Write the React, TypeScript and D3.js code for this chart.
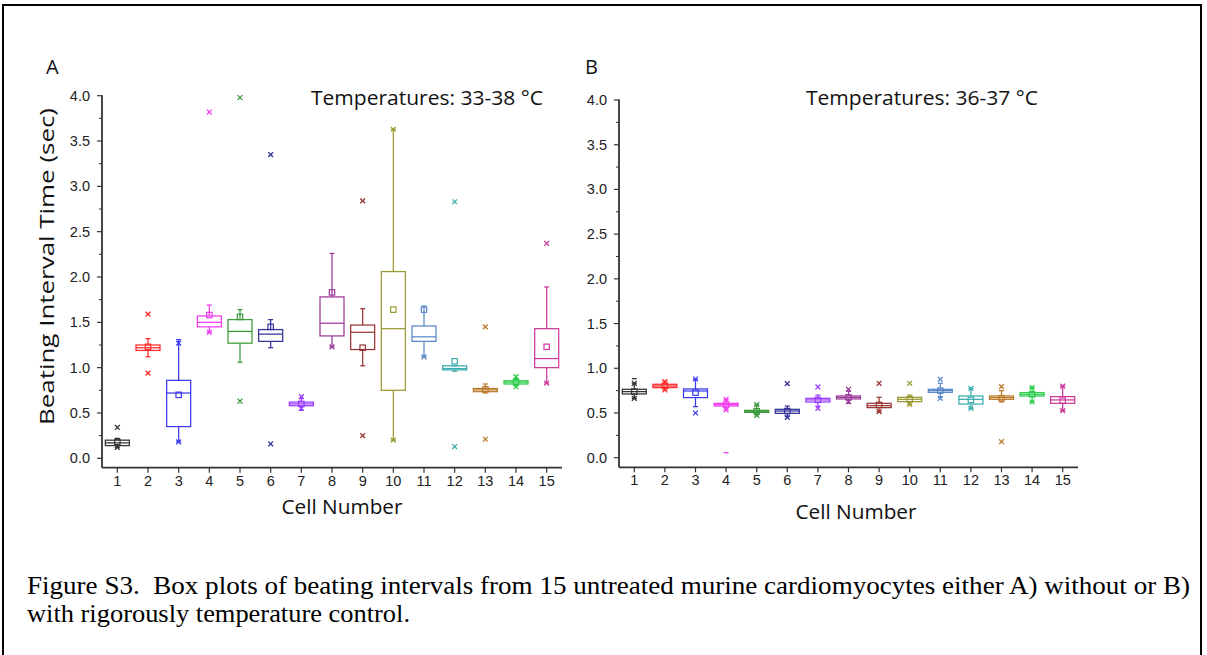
import React from "react";
import * as d3 from "d3";

// ---------- DATA ----------
const cells = [1, 2, 3, 4, 5, 6, 7, 8, 9, 10, 11, 12, 13, 14, 15];
const yTicks = [0, 0.5, 1.0, 1.5, 2.0, 2.5, 3.0, 3.5, 4.0];
const cellColors = ["#333333", "#ff2a2a", "#3a3aee", "#f03cf0", "#3a9a3a", "#33339a", "#9a3cff", "#9a3a9a", "#9a3535", "#9a9a35", "#5a88c8", "#3aacac", "#bb7a2a", "#2acc4a", "#cc3a99"];

// Panel A (33-38 °C)
const aQ1 = [0.14, 1.19, 0.35, 1.45, 1.27, 1.29, 0.58, 1.35, 1.20, 0.75, 1.29, 0.975, 0.735, 0.82, 1.00];
const aMed = [0.17, 1.22, 0.72, 1.50, 1.40, 1.37, 0.60, 1.49, 1.39, 1.43, 1.34, 0.99, 0.755, 0.84, 1.10];
const aQ3 = [0.20, 1.25, 0.86, 1.57, 1.53, 1.42, 0.62, 1.78, 1.47, 2.06, 1.46, 1.02, 0.77, 0.855, 1.43];
const aMean = [0.18, 1.23, 0.70, 1.58, 1.56, 1.45, 0.60, 1.83, 1.22, 1.64, 1.64, 1.07, 0.76, 0.84, 1.23];
const aWLo = [0.12, 1.12, 0.18, 1.39, 1.06, 1.22, 0.53, 1.23, 1.02, 0.20, 1.12, 0.96, 0.72, 0.80, 0.83];
const aWHi = [0.22, 1.32, 1.31, 1.69, 1.64, 1.53, 0.66, 2.26, 1.65, 3.63, 1.68, 1.02, 0.82, 0.88, 1.89];
const aXLo = [0.12, 0.94, 0.18, 1.39, 0.63, 0.16, 0.55, 1.23, 0.25, 0.20, 1.12, 0.13, 0.21, 0.79, 0.83];
const aXHi = [0.34, 1.59, 1.27, 3.82, 3.98, 3.35, 0.68, null, 2.84, 3.63, null, 2.83, 1.45, 0.90, 2.37];
const aDash = [null, null, null, null, null, null, null, null, null, null, null, null, null, null, null];

// Panel B (36-37 °C)
const bQ1 = [0.713, 0.784, 0.672, 0.578, 0.507, 0.496, 0.623, 0.657, 0.56, 0.627, 0.731, 0.60, 0.653, 0.69, 0.608];
const bMed = [0.739, 0.802, 0.746, 0.593, 0.519, 0.522, 0.646, 0.675, 0.582, 0.653, 0.75, 0.653, 0.672, 0.709, 0.646];
const bQ3 = [0.765, 0.821, 0.769, 0.608, 0.53, 0.541, 0.664, 0.69, 0.608, 0.675, 0.765, 0.69, 0.69, 0.728, 0.683];
const bMean = [0.739, 0.805, 0.728, 0.593, 0.519, 0.522, 0.646, 0.675, 0.59, 0.653, 0.75, 0.646, 0.665, 0.709, 0.638];
const bWLo = [0.664, 0.757, 0.571, 0.534, 0.478, 0.459, 0.575, 0.608, 0.515, 0.597, 0.675, 0.552, 0.623, 0.623, 0.526];
const bWHi = [0.832, 0.858, 0.877, 0.653, 0.59, 0.578, 0.70, 0.746, 0.675, 0.70, 0.832, 0.776, 0.75, 0.784, 0.802];
const bXLo = [0.664, 0.757, 0.50, 0.534, 0.474, 0.451, 0.552, 0.627, 0.515, 0.597, 0.664, 0.552, 0.179, 0.623, 0.526];
const bXHi = [0.832, 0.85, 0.88, 0.653, 0.593, 0.828, 0.791, 0.765, 0.832, 0.832, 0.877, 0.776, 0.795, 0.784, 0.80];
const bDash = [0.884, null, null, 0.056, null, null, null, null, null, null, null, null, null, null, null];

const captionLine1 = "Figure S3.  Box plots of beating intervals from 15 untreated murine cardiomyocytes either A) without or B)";
const captionLine2 = "with rigorously temperature control.";

// ---------- LAYOUT ----------
const W = 1207;
const H = 655;
const sans = "'Open Sans', 'Noto Sans', sans-serif";
const arial = "'Liberation Sans', Arial, sans-serif";
const serif = "'Liberation Serif', 'Times New Roman', serif";
const axisColor = "#333";

type PanelProps = {
  left: number; right: number; y0: number; y4: number; axisY: number;
  q1: number[]; med: number[]; q3: number[]; mean: number[];
  wLo: number[]; wHi: number[]; xLo: (number | null)[]; xHi: (number | null)[]; dash: (number | null)[];
  letter: string; letterX: number; title: string; titleX: number; xTitleX: number; xTitleY: number; yTitle?: string;
};

function XMark({ cx, cy, color }: { cx: number; cy: number; color: string }) {
  const s = 2.4;
  return (
    <g stroke={color} strokeWidth={1.3}>
      <line x1={cx - s} y1={cy - s} x2={cx + s} y2={cy + s} />
      <line x1={cx - s} y1={cy + s} x2={cx + s} y2={cy - s} />
    </g>
  );
}

function Panel(p: PanelProps) {
  const x = d3.scaleLinear().domain([0.5, 15.5]).range([p.left, p.right]);
  const y = d3.scaleLinear().domain([0, 4]).range([p.y0, p.y4]);
  const minor = d3.range(0.25, 4, 0.5);
  const boxW = 24;
  const capW = 5;
  return (
    <g>
      {cells.map((c, i) => {
        const cx = x(c);
        const col = cellColors[i];
        const xl = p.xLo[i];
        const xh = p.xHi[i];
        const dv = p.dash[i];
        return (
          <g key={c} fill="none" stroke={col} strokeWidth={1.25}>
            <line x1={cx} x2={cx} y1={y(p.q3[i])} y2={y(p.wHi[i])} />
            <line x1={cx} x2={cx} y1={y(p.q1[i])} y2={y(p.wLo[i])} />
            <line x1={cx - capW / 2} x2={cx + capW / 2} y1={y(p.wHi[i])} y2={y(p.wHi[i])} />
            <line x1={cx - capW / 2} x2={cx + capW / 2} y1={y(p.wLo[i])} y2={y(p.wLo[i])} />
            <rect x={cx - boxW / 2} width={boxW} y={y(p.q3[i])} height={Math.max(0.5, y(p.q1[i]) - y(p.q3[i]))} />
            <line x1={cx - boxW / 2} x2={cx + boxW / 2} y1={y(p.med[i])} y2={y(p.med[i])} />
            <rect x={cx - 2.7} y={y(p.mean[i]) - 2.7} width={5.4} height={5.4} strokeWidth={1.2} />
            {xl !== null && <XMark cx={cx} cy={y(xl)} color={col} />}
            {xh !== null && <XMark cx={cx} cy={y(xh)} color={col} />}
            {dv !== null && <line x1={cx - 2.5} x2={cx + 2.5} y1={y(dv)} y2={y(dv)} />}
          </g>
        );
      })}
      <line x1={p.left} x2={p.left} y1={y(4) - 0.5} y2={p.axisY} stroke={axisColor} strokeWidth={1.8} />
      <line x1={p.left} x2={p.right} y1={p.axisY} y2={p.axisY} stroke={axisColor} strokeWidth={1.8} />
      {yTicks.map((t) => (
        <g key={t}>
          <line x1={p.left - 5} x2={p.left} y1={y(t)} y2={y(t)} stroke={axisColor} strokeWidth={1.2} />
          <text x={p.left - 12} y={y(t) + 5} textAnchor="end" fontFamily={arial} fontSize={14.5} fill="#222">{d3.format(".1f")(t)}</text>
        </g>
      ))}
      {minor.map((t) => (
        <line key={t} x1={p.left - 3} x2={p.left} y1={y(t)} y2={y(t)} stroke={axisColor} strokeWidth={1} />
      ))}
      {cells.map((c) => (
        <g key={c}>
          <line x1={x(c)} x2={x(c)} y1={p.axisY} y2={p.axisY + 5} stroke={axisColor} strokeWidth={1.2} />
          <text x={x(c)} y={p.axisY + 18} textAnchor="middle" fontFamily={arial} fontSize={14.5} fill="#222">{c}</text>
        </g>
      ))}
      <text x={p.xTitleX} y={p.xTitleY} textAnchor="middle" fontFamily={sans} fontSize={20} fill="#111"
        textLength={121} lengthAdjust="spacingAndGlyphs">Cell Number</text>
      {p.yTitle && (
        <text transform={`translate(54,266.5) rotate(-90)`} textAnchor="middle" fontFamily={sans} fontSize={20} fill="#111"
          textLength={317} lengthAdjust="spacingAndGlyphs">{p.yTitle}</text>
      )}
      <text x={p.letterX} y={74} fontFamily={sans} fontSize={20} fill="#111">{p.letter}</text>
      <text x={p.titleX} y={105} textAnchor="middle" fontFamily={sans} fontSize={20} fill="#111"
        textLength={232} lengthAdjust="spacingAndGlyphs">{p.title}</text>
    </g>
  );
}

export default function App() {
  return (
    <svg width={W} height={H} style={{ position: "absolute", left: 0, top: 0, background: "#fff" }}>
      <rect x={3} y={5} width={1198} height={700} fill="#fff" stroke="#000" strokeWidth={2} />
      <Panel left={102} right={562} y0={458.3} y4={95.7} axisY={467.7}
        q1={aQ1} med={aMed} q3={aQ3} mean={aMean} wLo={aWLo} wHi={aWHi} xLo={aXLo} xHi={aXHi} dash={aDash}
        letter="A" letterX={46} title="Temperatures: 33-38 °C" titleX={427} xTitleX={342} xTitleY={514}
        yTitle="Beating Interval Time (sec)" />
      <Panel left={619} right={1078} y0={457.7} y4={100} axisY={467.3}
        q1={bQ1} med={bMed} q3={bQ3} mean={bMean} wLo={bWLo} wHi={bWHi} xLo={bXLo} xHi={bXHi} dash={bDash}
        letter="B" letterX={585} title="Temperatures: 36-37 °C" titleX={922} xTitleX={856} xTitleY={519} />
      <text x={27} y={594} fontFamily={serif} fontSize={25} fill="#000" style={{ whiteSpace: "pre" }}
        textLength={1163} lengthAdjust="spacingAndGlyphs">{captionLine1}</text>
      <text x={27} y={622} fontFamily={serif} fontSize={25} fill="#000"
        textLength={383} lengthAdjust="spacingAndGlyphs">{captionLine2}</text>
    </svg>
  );
}
